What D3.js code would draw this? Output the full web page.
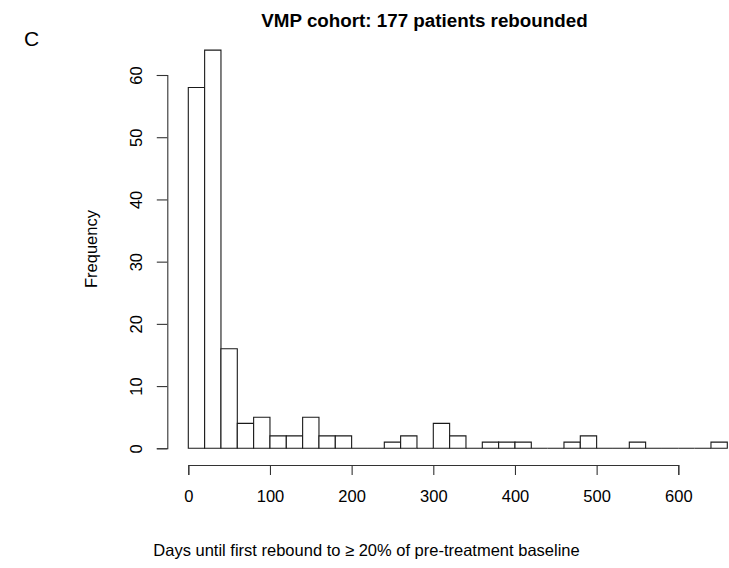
<!DOCTYPE html>
<html>
<head>
<meta charset="utf-8">
<script src="https://cdn.jsdelivr.net/npm/d3@7"></script>
<style>
  body { margin: 0; background: #fff; }
  text { font-family: "Liberation Sans", Arial, Helvetica, sans-serif; fill: #000; }
</style>
</head>
<body>
<div id="chart"></div>
<script>
// histogram bins (days), width 20
const binWidth = 20;
const binStarts = [0, 20, 40, 60, 80, 100, 120, 140, 160, 180, 200, 220, 240, 260, 280, 300, 320,
                   340, 360, 380, 400, 420, 440, 460, 480, 500, 520, 540, 560, 580, 600, 620, 640];
const counts = [58, 64, 16, 4, 5, 2, 2, 5, 2, 2, 0, 0, 1, 2, 0, 4, 2,
                0, 1, 1, 1, 0, 0, 1, 2, 0, 0, 1, 0, 0, 0, 0, 1];
const xTicks = [0, 100, 200, 300, 400, 500, 600];
const yTicks = [0, 10, 20, 30, 40, 50, 60];

const width = 729, height = 568;

const svg = d3.select("#chart")
  .append("svg")
    .attr("width", width)
    .attr("height", height);

// scales, set from where 0/600 and 0/60 fall in the figure
const x = d3.scaleLinear().domain([0, 600]).range([188.3, 678.3]);
const y = d3.scaleLinear().domain([0, 60]).range([448.3, 75]);

// bars as closed paths so empty bins still show as a flat line
svg.append("g")
  .selectAll("path")
  .data(binStarts)
  .join("path")
    .attr("d", (d, i) => {
      const x0 = x(d), x1 = x(d + binWidth), y0 = y(0), y1 = y(counts[i]);
      return `M${x0},${y0}V${y1}H${x1}V${y0}Z`;
    })
    .attr("fill", "white")
    .attr("stroke", "#1a1a1a")
    .attr("stroke-width", 1.1);

// x axis (below the bars, like R's hist)
const xAxis = svg.append("g")
  .attr("transform", "translate(0,465)")
  .call(d3.axisBottom(x).tickValues(xTicks).tickSizeOuter(0).tickSize(10).tickPadding(15));
xAxis.selectAll("text").style("font-size", "16.5px");

// y axis, offset left, labels rotated
const yAxis = svg.append("g")
  .attr("transform", "translate(167.3,0)")
  .call(d3.axisLeft(y).tickValues(yTicks).tickSizeOuter(0).tickSize(10.5));
yAxis.selectAll("text")
  .style("font-size", "16.5px")
  .attr("x", 0)
  .attr("y", -25.5)
  .attr("dy", 0)
  .attr("transform", "rotate(-90)")
  .attr("text-anchor", "middle");

svg.selectAll(".domain, .tick line").attr("stroke", "#333").attr("stroke-width", 1.1);

// titles
svg.append("text")
  .attr("x", 424.5).attr("y", 27)
  .attr("text-anchor", "middle")
  .style("font-size", "18.8px")
  .style("font-weight", "bold")
  .text("VMP cohort: 177 patients rebounded");

svg.append("text")
  .attr("x", 24).attr("y", 46)
  .style("font-size", "21px")
  .text("C");

svg.append("text")
  .attr("x", 366.5).attr("y", 556)
  .attr("text-anchor", "middle")
  .style("font-size", "16.5px")
  .text("Days until first rebound to ≥ 20% of pre-treatment baseline");

svg.append("text")
  .attr("transform", "translate(97,249) rotate(-90)")
  .attr("text-anchor", "middle")
  .style("font-size", "16.5px")
  .text("Frequency");
</script>
</body>
</html>
